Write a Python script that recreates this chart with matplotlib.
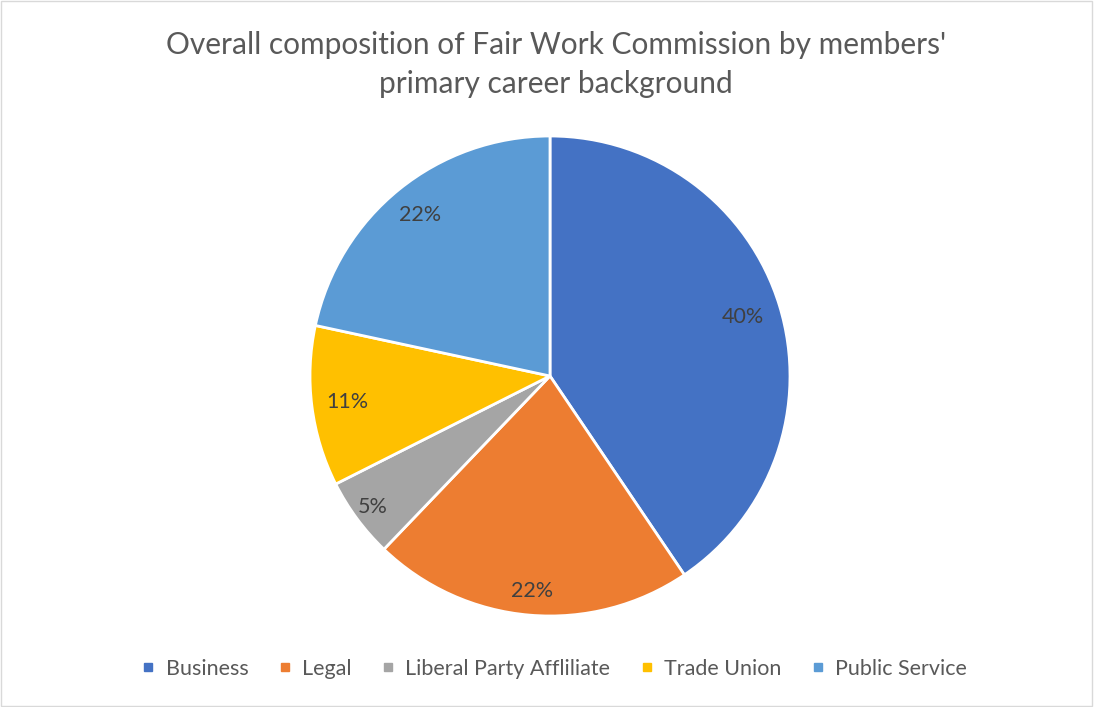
import matplotlib.pyplot as plt
from matplotlib.lines import Line2D
from matplotlib.patches import Rectangle
import numpy as np

plt.rcParams['font.family'] = ['Lato', 'DejaVu Sans']

# data: share of members by primary career background (%)
categories = ['Business', 'Legal', 'Liberal Party Affliliate', 'Trade Union', 'Public Service']
share = [40.5, 21.6, 5.4, 10.8, 21.6]
colours = ['#4472C4', '#ED7D31', '#A5A5A5', '#FFC000', '#5B9BD5']
label_radius = [0.84, 0.90, 0.92, 0.85, 0.86]
label_text = ['40%', '22%', '5%', '11%', '22%']

fig = plt.figure(figsize=(10.94, 7.07), dpi=100)
fig.patch.set_facecolor('white')

# pie axes: centre at (550, 376) px, radius 240 px
W, H = 1094, 707
half = 260
ax = fig.add_axes([(550 - half) / W, (H - 376 - half) / H, 2 * half / W, 2 * half / H])

wedges, _ = ax.pie(share, colors=colours, startangle=90, counterclock=False,
                   radius=1.0, wedgeprops=dict(edgecolor='white', linewidth=2))
lim = half / 240
ax.set_xlim(-lim, lim)
ax.set_ylim(-lim, lim)
ax.set_aspect('equal')
ax.axis('off')

for w, s, r in zip(wedges, label_text, label_radius):
    ang = np.deg2rad((w.theta1 + w.theta2) / 2)
    ax.text(r * np.cos(ang), r * np.sin(ang), s,
            ha='center', va='center', fontsize=15.5, color='#404040')

fig.text(0.508, 1 - 45 / H, "Overall composition of Fair Work Commission by members'",
         ha='center', va='center', fontsize=21.5, color='#595959')
fig.text(0.508, 1 - 84 / H, "primary career background",
         ha='center', va='center', fontsize=21.5, color='#595959')

handles = [Line2D([0], [0], marker='s', color='none', markerfacecolor=c,
                  markeredgecolor=c, markersize=6) for c in colours]
fig.legend(handles, categories, loc='center', bbox_to_anchor=(0.505, 1 - 669 / H),
           ncol=5, frameon=False, fontsize=15.5, labelcolor='#595959',
           handletextpad=0.3, columnspacing=1.2, handlelength=1.0)

fig.add_artist(Rectangle((0.001, 0.002), 0.997, 0.996, transform=fig.transFigure,
                         fill=False, edgecolor='#D9D9D9', linewidth=1))

fig.savefig('out.png', dpi=100)
